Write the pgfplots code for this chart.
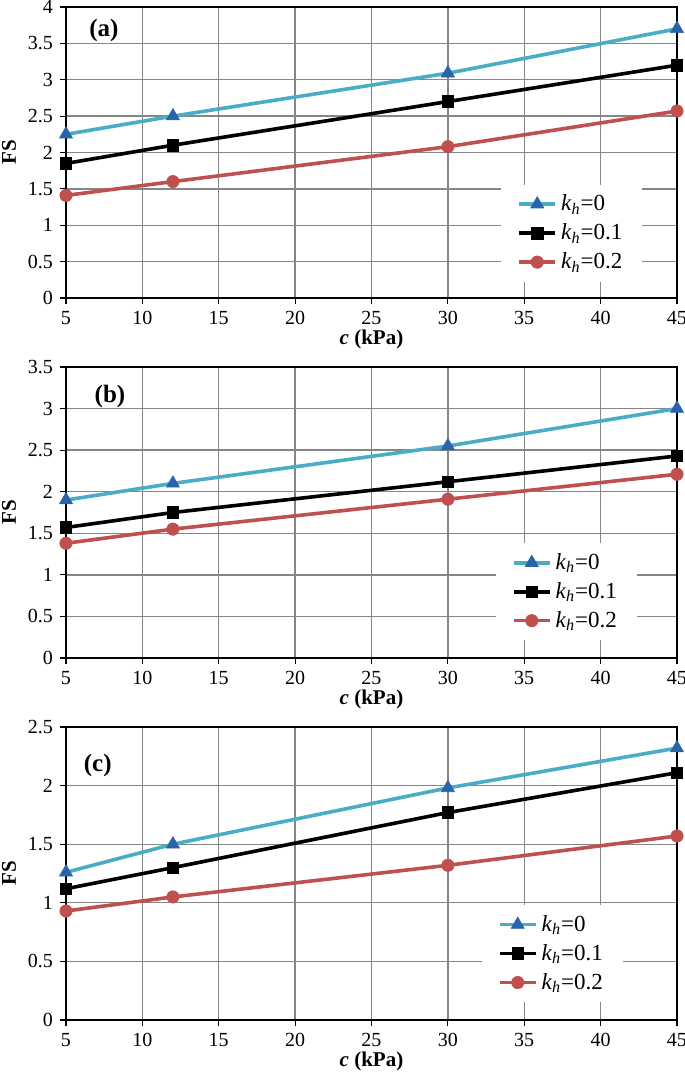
\documentclass[border=0pt]{standalone}
\usepackage{pgfplots}
\pgfplotsset{compat=1.18}
\usepackage{fontspec}
\setmainfont{Liberation Serif}
\definecolor{cyanl}{HTML}{4BACC6}
\definecolor{tri}{HTML}{2A64A8}
\definecolor{redl}{HTML}{C0504D}
\definecolor{gridc}{HTML}{868686}
\newcommand{\kh}{\textit{k}\textsubscript{\textit{h}}}
\pgfplotsset{
  panel/.style={
    scale only axis, width=305.5pt, height=145.5pt,
    xmin=5, xmax=45, xtick={5,10,...,45}, ymin=0,
    grid=major, major grid style={gridc, line width=0.65pt},
    axis line style={black, line width=0.8pt},
    tick align=outside, tick pos=left, major tick length=3pt,
    tick style={black, line width=0.6pt},
    /pgf/number format/assume math mode=true,
    ticklabel style={font=\fontsize{10}{12}\selectfont},
    xlabel={\textbf{\textit{c} (kPa)}},
    ylabel={\textbf{FS}},
    label style={font=\fontsize{10.5}{12}\selectfont},
    xlabel style={yshift=4pt},
    ylabel style={yshift=-1pt},
    legend cell align=left,
    legend style={draw=none, fill=white, font=\fontsize{11.5}{13}\selectfont,
      row sep=1pt, inner xsep=8pt, inner ysep=3pt},
    legend image code/.code={
      \draw[mark repeat=2,mark phase=2,#1] plot coordinates {(0pt,0pt) (9pt,0pt) (18pt,0pt)};},
    clip=false,
  },
  s0/.style={cyanl, line width=1.8pt, mark=triangle*, mark size=3.8pt, mark options={fill=tri, draw=tri, line width=0.3pt}},
  s1/.style={black, line width=1.8pt, mark=square*, mark size=2.9pt, mark options={fill=black, line width=0.3pt}},
  s2/.style={redl, line width=1.8pt, mark=*, mark size=3.1pt, mark options={fill=redl, line width=0.3pt}},
}
\begin{document}
\begin{tikzpicture}
\path[use as bounding box] (-33pt,-26.5pt) rectangle (309.5pt,510pt);
% (a)
\begin{axis}[panel, at={(0,361pt)}, anchor=south west, ymax=4, ytick={0,0.5,...,4},
  yticklabels={0,0.5,1,1.5,2,2.5,3,3.5,4},
  legend style={at={(0.944,0.055)}, anchor=south east}]
\addplot[s0] coordinates {(5,2.25) (12,2.5) (30,3.09) (45,3.7)};
\addplot[s1] coordinates {(5,1.85) (12,2.1) (30,2.7) (45,3.2)};
\addplot[s2] coordinates {(5,1.41) (12,1.6) (30,2.08) (45,2.57)};
\legend{\kh=0, \kh=0.1, \kh=0.2}
\node[font=\fontsize{12.5}{14}\selectfont\bfseries] at (rel axis cs:0.062,0.918) {(a)};
\end{axis}
% (b)
\begin{axis}[panel, at={(0,181pt)}, anchor=south west, ymax=3.5, ytick={0,0.5,...,3.5},
  yticklabels={0,0.5,1,1.5,2,2.5,3,3.5},
  legend style={at={(0.935,0.06)}, anchor=south east}]
\addplot[s0] coordinates {(5,1.9) (12,2.1) (30,2.55) (45,3.0)};
\addplot[s1] coordinates {(5,1.57) (12,1.75) (30,2.12) (45,2.43)};
\addplot[s2] coordinates {(5,1.38) (12,1.55) (30,1.91) (45,2.21)};
\legend{\kh=0, \kh=0.1, \kh=0.2}
\node[font=\fontsize{12.5}{14}\selectfont\bfseries] at (rel axis cs:0.072,0.897) {(b)};
\end{axis}
% (c)
\begin{axis}[panel, at={(0,0)}, anchor=south west, height=146.5pt, ymax=2.5, ytick={0,0.5,...,2.5},
  yticklabels={0,0.5,1,1.5,2,2.5},
  legend style={at={(0.912,0.06)}, anchor=south east}]
\addplot[s0] coordinates {(5,1.26) (12,1.5) (30,1.98) (45,2.32)};
\addplot[s1] coordinates {(5,1.12) (12,1.3) (30,1.77) (45,2.11)};
\addplot[s2] coordinates {(5,0.93) (12,1.05) (30,1.32) (45,1.57)};
\legend{\kh=0, \kh=0.1, \kh=0.2}
\node[font=\fontsize{12.5}{14}\selectfont\bfseries] at (rel axis cs:0.052,0.867) {(c)};
\end{axis}
\end{tikzpicture}
\end{document}
